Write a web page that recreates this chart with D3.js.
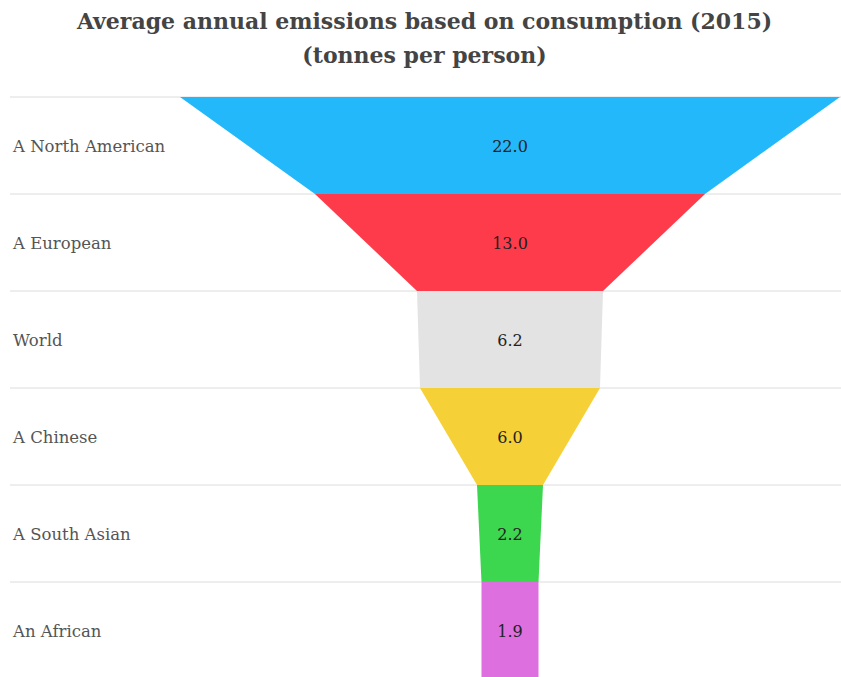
<!DOCTYPE html>
<html>
<head>
<meta charset="utf-8">
<script src="https://cdn.jsdelivr.net/npm/d3@7"></script>
<style>
  body { margin: 0; background: #fff; }
  svg { display: block; }
</style>
</head>
<body>
<svg></svg>
<script>
// chart data
const categories = ["A North American", "A European", "World", "A Chinese", "A South Asian", "An African"];
const values = [22.0, 13.0, 6.2, 6.0, 2.2, 1.9];
const colors = ["#22b8f9", "#fd3b4b", "#e3e3e3", "#f6d037", "#3dd64f", "#dd70de"];
const titleLines = ["Average annual emissions based on consumption (2015)", "(tonnes per person)"];

const width = 841;
const height = 677;
const centerX = 510;

let svg = d3.select("svg")
    .attr("width", width)
    .attr("height", height);

// title
svg.append("g")
    .selectAll("text")
    .data(titleLines)
    .enter()
    .append("text")
    .attr("x", width / 2 + 4)
    .attr("y", (d, i) => 29 + i * 34)
    .attr("text-anchor", "middle")
    .attr("font-family", "'DejaVu Serif', serif")
    .attr("font-weight", "bold")
    .attr("font-size", "22px")
    .attr("fill", "#444")
    .text(d => d);

// rows
let y = d3.scaleBand()
    .domain(categories)
    .range([97, 679]);

// width of the funnel at a given value
let w = d3.scaleLinear()
    .domain([0, 22])
    .range([0, 660]);

// separator lines
svg.append("g")
    .selectAll("line")
    .data(categories)
    .enter()
    .append("line")
    .attr("x1", 10)
    .attr("x2", width)
    .attr("y1", d => y(d))
    .attr("y2", d => y(d))
    .attr("stroke", "#dcdcdc")
    .attr("stroke-width", 1);

// funnel pieces: top edge uses own value, bottom edge the next one
svg.append("g")
    .selectAll("path")
    .data(categories)
    .enter()
    .append("path")
    .attr("d", function(d, i) {
        let top = w(values[i]) / 2;
        let bot = w(i < values.length - 1 ? values[i + 1] : values[i]) / 2;
        let y0 = y(d), y1 = y(d) + y.bandwidth();
        return "M" + (centerX - top) + "," + y0 +
            "L" + (centerX + top) + "," + y0 +
            "L" + (centerX + bot) + "," + y1 +
            "L" + (centerX - bot) + "," + y1 + "Z";
    })
    .attr("fill", (d, i) => colors[i]);

// category labels
svg.append("g")
    .selectAll("text")
    .data(categories)
    .enter()
    .append("text")
    .attr("x", 13)
    .attr("y", d => y(d) + y.bandwidth() / 2)
    .attr("dy", "0.42em")
    .attr("font-family", "'DejaVu Serif', serif")
    .attr("font-size", "16.5px")
    .attr("fill", "#555")
    .text(d => d);

// value labels
svg.append("g")
    .selectAll("text")
    .data(categories)
    .enter()
    .append("text")
    .attr("x", centerX)
    .attr("y", d => y(d) + y.bandwidth() / 2)
    .attr("dy", "0.42em")
    .attr("text-anchor", "middle")
    .attr("font-family", "'DejaVu Serif', serif")
    .attr("font-size", "16px")
    .attr("fill", "#222")
    .text((d, i) => d3.format(".1f")(values[i]));
</script>
</body>
</html>
